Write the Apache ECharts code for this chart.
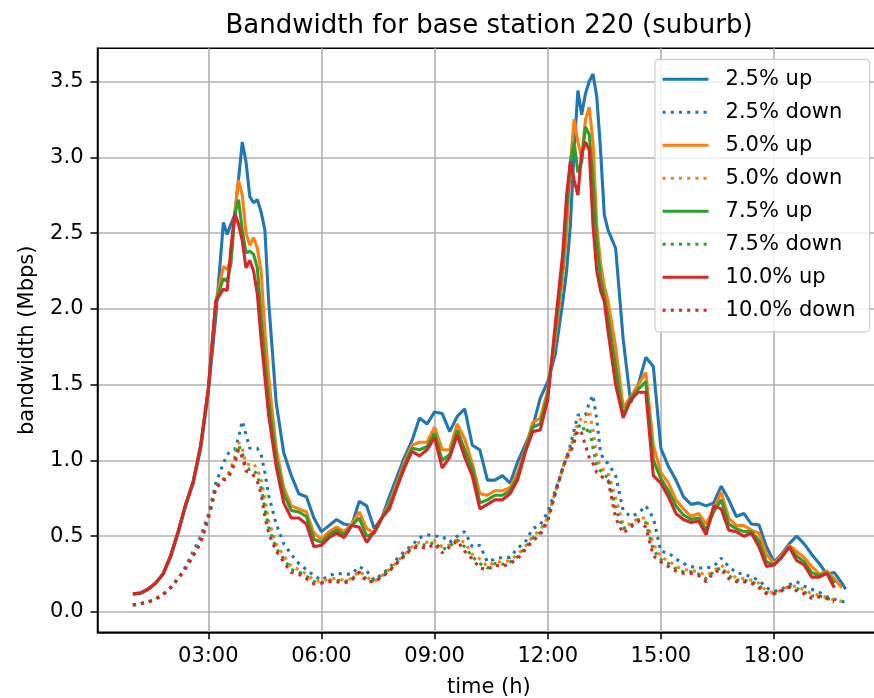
<!DOCTYPE html>
<html><head><meta charset="utf-8">
<script src="https://cdn.jsdelivr.net/npm/echarts@6/dist/echarts.min.js"></script>
<style>html,body{margin:0;padding:0;background:#fff}#c{width:874px;height:698px}</style>
</head><body><div id="c"></div>
<script>
const times = [1.0,1.2,1.4,1.6,1.8,2.0,2.2,2.4,2.6,2.8,3.0,3.2,3.4,
3.5,3.6,3.7,3.8,3.9,4.0,4.1,4.2,4.3,4.4,4.5,4.6,
4.8,5.0,5.2,5.4,5.6,5.8,6.0,6.2,6.4,6.6,6.8,7.0,7.2,7.4,7.6,7.8,8.0,8.2,8.4,8.6,8.8,9.0,9.2,9.4,9.6,9.8,10.0,10.2,10.4,10.6,10.8,11.0,11.2,11.4,11.6,11.8,12.0,12.2,12.4,
12.5,12.6,12.7,12.8,12.9,13.0,13.1,13.2,13.3,13.4,13.5,13.6,
13.8,14.0,14.2,14.4,14.6,14.8,15.0,15.2,15.4,15.6,15.8,16.0,16.2,16.4,16.6,16.8,17.0,17.2,17.4,17.6,17.8,18.0,18.2,18.4,18.6,18.8,19.0,19.2,19.4,19.6,19.8,19.9];

const up25 = [0.115,0.125,0.15,0.19,0.25,0.36,0.52,0.70,0.85,1.08,1.45,1.95,2.57,
2.49,2.56,2.62,2.85,3.10,2.97,2.74,2.70,2.72,2.64,2.52,2.05,
1.38,1.05,0.90,0.78,0.76,0.62,0.53,0.57,0.61,0.58,0.57,0.73,0.70,0.55,0.62,0.76,0.89,1.02,1.13,1.28,1.24,1.32,1.31,1.19,1.29,1.34,1.10,1.07,0.87,0.87,0.90,0.85,0.99,1.10,1.22,1.41,1.52,1.70,2.05,
2.25,2.55,3.05,3.44,3.28,3.42,3.50,3.55,3.40,3.05,2.62,2.52,
2.40,1.80,1.38,1.50,1.68,1.62,1.08,0.96,0.87,0.76,0.71,0.72,0.70,0.72,0.83,0.74,0.63,0.65,0.58,0.575,0.43,0.33,0.38,0.45,0.50,0.45,0.38,0.32,0.25,0.26,0.19,0.15];
const down25 = [0.046,0.055,0.065,0.085,0.115,0.16,0.22,0.30,0.40,0.50,0.64,0.85,0.98,
1.04,1.06,1.07,1.15,1.26,1.17,1.08,1.08,1.08,1.04,0.92,0.77,
0.58,0.45,0.38,0.32,0.28,0.24,0.21,0.24,0.255,0.25,0.25,0.30,0.27,0.21,0.25,0.29,0.35,0.40,0.44,0.49,0.51,0.50,0.50,0.46,0.50,0.53,0.43,0.44,0.33,0.35,0.36,0.36,0.42,0.46,0.55,0.575,0.66,0.80,0.95,
1.02,1.10,1.20,1.30,1.30,1.30,1.38,1.43,1.27,1.05,1.00,0.98,
0.90,0.67,0.63,0.65,0.70,0.62,0.40,0.39,0.35,0.32,0.30,0.29,0.29,0.30,0.355,0.30,0.26,0.25,0.23,0.21,0.16,0.135,0.15,0.18,0.20,0.17,0.15,0.13,0.10,0.085,0.068,0.07];
const up50 = [0.12,0.125,0.15,0.19,0.25,0.37,0.53,0.71,0.86,1.10,1.47,2.05,2.28,
2.26,2.33,2.62,2.85,2.75,2.50,2.42,2.47,2.40,2.25,1.85,1.55,
1.08,0.82,0.70,0.68,0.66,0.52,0.48,0.53,0.56,0.53,0.58,0.66,0.55,0.52,0.62,0.72,0.85,0.99,1.10,1.12,1.12,1.22,1.07,1.07,1.24,1.14,0.98,0.78,0.77,0.80,0.80,0.82,0.92,1.07,1.25,1.28,1.46,1.80,2.22,
2.50,2.95,3.25,3.10,3.00,3.25,3.33,3.10,2.55,2.30,2.15,2.05,
1.75,1.35,1.42,1.50,1.58,1.10,0.92,0.85,0.74,0.68,0.63,0.65,0.58,0.68,0.79,0.62,0.57,0.57,0.54,0.52,0.38,0.32,0.37,0.44,0.40,0.36,0.30,0.25,0.27,0.22,0.16,null];
const down50 = [0.046,0.055,0.065,0.085,0.115,0.16,0.22,0.29,0.38,0.47,0.62,0.82,0.88,
0.90,0.95,1.02,1.12,1.08,0.98,0.97,0.98,0.94,0.88,0.75,0.60,
0.45,0.37,0.30,0.28,0.25,0.21,0.20,0.22,0.22,0.21,0.22,0.27,0.23,0.20,0.24,0.28,0.33,0.38,0.43,0.46,0.46,0.47,0.43,0.44,0.48,0.46,0.38,0.35,0.30,0.33,0.33,0.34,0.38,0.43,0.50,0.54,0.62,0.79,0.95,
1.02,1.08,1.16,1.25,1.28,1.25,1.33,1.20,1.02,0.96,0.93,0.92,
0.75,0.58,0.58,0.62,0.62,0.45,0.36,0.34,0.30,0.28,0.275,0.265,0.24,0.27,0.31,0.26,0.225,0.22,0.21,0.19,0.14,0.125,0.145,0.17,0.17,0.145,0.12,0.11,0.095,0.08,0.07,null];
const up75 = [0.12,0.125,0.15,0.19,0.25,0.37,0.53,0.71,0.86,1.10,1.47,2.05,2.20,
2.18,2.30,2.62,2.72,2.52,2.37,2.38,2.36,2.27,1.95,1.65,1.40,
1.02,0.78,0.67,0.66,0.63,0.48,0.46,0.51,0.54,0.51,0.57,0.62,0.50,0.52,0.62,0.70,0.83,0.97,1.08,1.07,1.09,1.18,1.00,1.04,1.20,1.07,0.95,0.72,0.74,0.77,0.77,0.80,0.89,1.06,1.22,1.24,1.43,1.85,2.30,
2.65,2.97,3.10,2.90,2.97,3.20,3.15,2.85,2.45,2.20,2.08,1.95,
1.62,1.30,1.41,1.47,1.52,1.00,0.88,0.80,0.70,0.64,0.61,0.62,0.54,0.66,0.74,0.58,0.55,0.53,0.53,0.47,0.33,0.31,0.36,0.43,0.37,0.33,0.26,0.24,0.26,0.19,null,null];
const down75 = [0.046,0.055,0.065,0.085,0.115,0.16,0.22,0.29,0.37,0.46,0.62,0.82,0.87,
0.88,0.93,1.00,1.10,1.05,0.95,0.94,0.94,0.90,0.82,0.68,0.56,
0.42,0.35,0.28,0.265,0.235,0.20,0.195,0.21,0.21,0.20,0.215,0.265,0.215,0.20,0.235,0.275,0.325,0.375,0.425,0.445,0.44,0.46,0.41,0.435,0.475,0.43,0.365,0.32,0.29,0.32,0.315,0.33,0.365,0.42,0.485,0.525,0.61,0.785,0.95,
1.02,1.06,1.14,1.22,1.24,1.18,1.22,1.08,0.97,0.93,0.90,0.89,
0.68,0.55,0.57,0.61,0.59,0.41,0.345,0.32,0.285,0.265,0.265,0.25,0.22,0.265,0.295,0.24,0.21,0.21,0.20,0.175,0.13,0.122,0.142,0.167,0.155,0.132,0.105,0.105,0.09,0.075,null,null];
const up10 = [0.12,0.125,0.15,0.19,0.25,0.37,0.53,0.71,0.86,1.10,1.47,2.05,2.13,
2.12,2.40,2.63,2.56,2.45,2.27,2.32,2.25,2.10,1.80,1.55,1.30,
0.96,0.72,0.62,0.62,0.58,0.43,0.44,0.49,0.52,0.49,0.57,0.56,0.46,0.53,0.62,0.68,0.82,0.95,1.06,1.03,1.07,1.15,0.95,1.02,1.17,1.02,0.90,0.68,0.71,0.74,0.74,0.78,0.87,1.05,1.19,1.20,1.40,1.90,2.37,
2.75,2.97,2.85,2.75,3.03,3.10,3.05,2.55,2.25,2.12,2.05,1.85,
1.50,1.28,1.40,1.45,1.45,0.90,0.85,0.76,0.65,0.61,0.59,0.60,0.51,0.70,0.68,0.54,0.53,0.50,0.52,0.43,0.30,0.31,0.36,0.43,0.34,0.31,0.23,0.23,0.255,0.16,null,null];
const down10 = [0.046,0.055,0.065,0.085,0.115,0.16,0.22,0.29,0.37,0.46,0.62,0.82,0.87,
0.88,0.92,0.98,1.07,1.02,0.93,0.92,0.90,0.86,0.78,0.63,0.52,
0.40,0.33,0.26,0.25,0.22,0.185,0.19,0.20,0.20,0.19,0.21,0.26,0.20,0.20,0.23,0.27,0.32,0.37,0.42,0.43,0.42,0.45,0.39,0.43,0.47,0.40,0.35,0.29,0.28,0.31,0.30,0.32,0.35,0.41,0.47,0.51,0.60,0.78,0.95,
1.02,1.05,1.12,1.20,1.18,1.10,1.02,0.98,0.92,0.90,0.88,0.87,
0.62,0.52,0.56,0.60,0.56,0.37,0.33,0.30,0.27,0.255,0.255,0.24,0.20,0.26,0.28,0.22,0.20,0.20,0.19,0.16,0.12,0.12,0.14,0.165,0.14,0.12,0.09,0.10,0.09,0.068,null,null];

const xTicks = [3, 6, 9, 12, 15, 18];
const yTicks = [0.0, 0.5, 1.0, 1.5, 2.0, 2.5, 3.0, 3.5];
const seriesNames = ['2.5% up','2.5% down','5.0% up','5.0% down','7.5% up','7.5% down','10.0% up','10.0% down'];
const seriesData = [up25, down25, up50, down50, up75, down75, up10, down10];
const colors = ['#1f77b4','#1f77b4','#ff7f0e','#ff7f0e','#2ca02c','#2ca02c','#d62728','#d62728'];

const FONT = 'DejaVu Sans';
const FS = 21;
const LW = 3.1;
const DOT = [3.1, 5.1];
const chart = echarts.init(document.getElementById('c'), null, {renderer: 'canvas'});
const series = seriesNames.map((name, k) => ({
  name: name,
  type: 'line',
  data: times.map((t, i) => [t, seriesData[k][i]]),
  showSymbol: false,
  symbol: 'none',
  connectNulls: false,
  silent: true,
  animation: false,
  lineStyle: {
    color: colors[k],
    width: LW,
    type: (k % 2 === 1) ? DOT : 'solid',
    cap: 'butt'
  },
  itemStyle: {color: colors[k]}
}));

chart.setOption({
  animation: false,
  backgroundColor: '#ffffff',
  title: {
    text: 'Bandwidth for base station 220 (suburb)',
    left: 489, top: 13, textAlign: 'center', padding: 0,
    textStyle: {fontFamily: FONT, fontSize: 26, fontWeight: 'normal', color: '#000'}
  },
  grid: {
    left: 97.5, top: 48.3, right: -6.3, bottom: 65.7,
    outerBoundsMode: 'none', containLabel: false,
    show: true, borderColor: '#000', borderWidth: 1.5, backgroundColor: 'transparent'
  },
  legend: {
    orient: 'vertical',
    left: 655, top: 59.3,
    padding: [9.5, 14, 11, 6],
    itemWidth: 46, itemHeight: 21, itemGap: 12,
    backgroundColor: 'rgba(255,255,255,0.8)',
    borderColor: '#cccccc', borderWidth: 1.2, borderRadius: 4,
    textStyle: {fontFamily: FONT, fontSize: FS, color: '#000', padding: [0, 0, 0, 12]},
    data: seriesNames.map((n, k) => ({
      name: n,
      itemStyle: {color: 'rgba(0,0,0,0)', opacity: 0, borderWidth: 0},
      lineStyle: {color: colors[k], width: LW, type: (k % 2 === 1) ? DOT : 'solid', cap: 'butt', opacity: 1}
    })),
    selectedMode: false
  },
  xAxis: {
    type: 'value', min: 0.062, max: 20.818,
    name: 'time (h)', nameLocation: 'middle', nameGap: 45,
    nameTextStyle: {fontFamily: FONT, fontSize: FS, color: '#000'},
    axisLine: {show: true, onZero: false, lineStyle: {color: '#000', width: 1.5}},
    axisTick: {show: true, length: 7, lineStyle: {color: '#000', width: 1.5}, customValues: xTicks},
    axisLabel: {customValues: xTicks, margin: 14, fontFamily: FONT, fontSize: FS, color: '#000',
      formatter: v => String(Math.round(v)).padStart(2, '0') + ':00'},
    splitLine: {show: true, lineStyle: {color: '#b0b0b0', width: 1.6}}
  },
  yAxis: {
    type: 'value', min: -0.134, max: 3.719,
    name: 'bandwidth (Mbps)', nameLocation: 'middle', nameGap: 59, nameRotate: 90,
    nameTextStyle: {fontFamily: FONT, fontSize: FS, color: '#000'},
    axisLine: {show: true, onZero: false, lineStyle: {color: '#000', width: 1.5}},
    axisTick: {show: true, length: 7, lineStyle: {color: '#000', width: 1.5}, customValues: yTicks},
    axisLabel: {customValues: yTicks, margin: 14, fontFamily: FONT, fontSize: FS, color: '#000',
      formatter: v => v.toFixed(1)},
    splitLine: {show: true, lineStyle: {color: '#b0b0b0', width: 1.6}}
  },
  series: series
});
</script></body></html>
